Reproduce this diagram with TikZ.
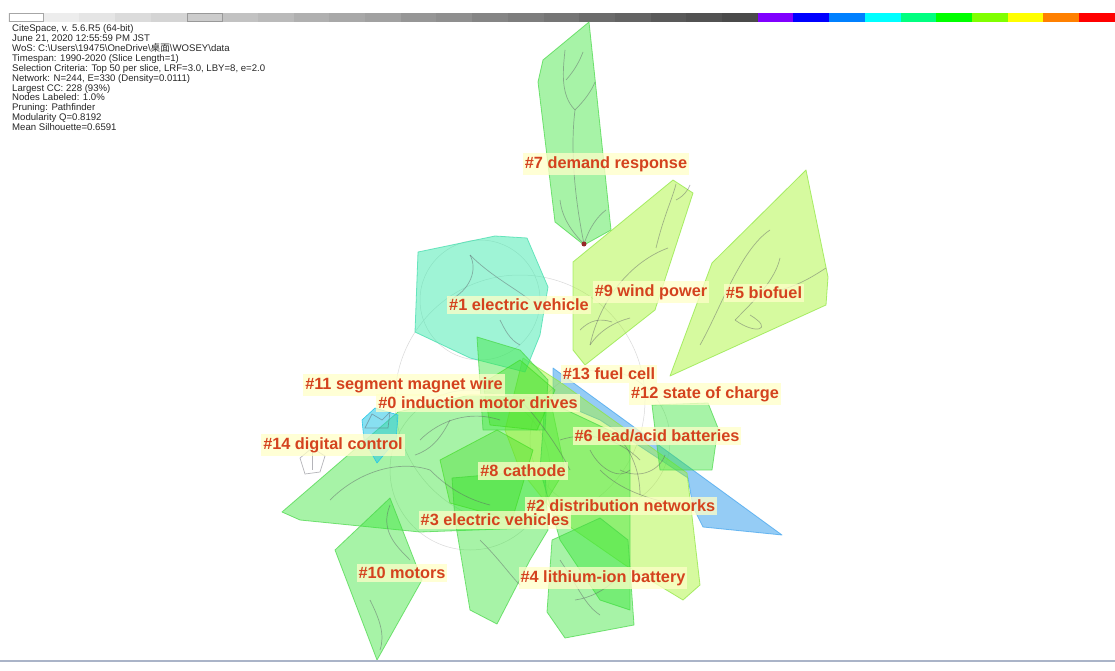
\documentclass[tikz,border=0pt]{standalone}
\usepackage{fontspec}
\setmainfont{Liberation Sans}
\newfontfamily\cjk{Noto Sans CJK SC}
\definecolor{labred}{RGB}{212,66,30}
\definecolor{labbg}{RGB}{255,255,200}
\definecolor{cgreen}{RGB}{60,230,60}
\definecolor{cgreenb}{RGB}{70,215,70}
\definecolor{cygreen}{RGB}{166,244,44}
\definecolor{cygreenb}{RGB}{140,230,60}
\definecolor{caqua}{RGB}{65,235,175}
\definecolor{caquab}{RGB}{60,220,170}
\definecolor{cblue}{RGB}{63,163,238}
\definecolor{cbright}{RGB}{60,220,30}
\definecolor{ccyan}{RGB}{40,200,230}
\definecolor{edgec}{RGB}{90,90,100}
\definecolor{dotc}{RGB}{150,40,40}
\definecolor{linec}{RGB}{170,180,200}
\definecolor{b1}{RGB}{128,0,255}
\definecolor{b2}{RGB}{0,0,255}
\definecolor{b3}{RGB}{0,128,255}
\definecolor{b4}{RGB}{0,255,255}
\definecolor{b5}{RGB}{0,255,128}
\definecolor{b6}{RGB}{0,255,0}
\definecolor{b7}{RGB}{128,255,0}
\definecolor{b8}{RGB}{255,255,0}
\definecolor{b9}{RGB}{255,128,0}
\definecolor{b10}{RGB}{255,0,0}
\tikzset{
  lab/.style={font=\bfseries\fontsize{16.3}{16.3}\selectfont, text=labred, fill=labbg, fill opacity=0.75, text opacity=1, inner xsep=2pt, inner ysep=3pt},
  pgreen/.style={fill=cgreen, fill opacity=0.45, draw=cgreenb, draw opacity=0.7, line width=0.8pt, line join=round},
  pyellow/.style={fill=cygreen, fill opacity=0.45, draw=cygreenb, draw opacity=0.7, line width=0.8pt, line join=round},
  paqua/.style={fill=caqua, fill opacity=0.5, draw=caquab, draw opacity=0.7, line width=0.8pt, line join=round},
  pblue/.style={fill=cblue, fill opacity=0.55, draw=cblue, draw opacity=0.7, line width=0.8pt, line join=round},
  pbright/.style={fill=cbright, fill opacity=0.35, draw=cbright, draw opacity=0.6, line width=0.8pt, line join=round},
  pcyan/.style={fill=ccyan, fill opacity=0.55, draw=ccyan, line width=0.6pt, line join=round},
  edge/.style={draw=edgec, draw opacity=0.45, line width=0.7pt},
  faint/.style={draw=gray!30, line width=0.5pt},
  info/.style={font=\fontsize{9.6}{9.9}\selectfont, text=black!85, align=left, inner sep=0pt, anchor=north west}
}
\begin{document}
\begin{tikzpicture}[x=1pt,y=-1pt]
\useasboundingbox (0,0) rectangle (1115,671);
\fill[white] (0,0) rectangle (1115,671);
% colour bar
\foreach \i in {0,...,20}{
  \pgfmathtruncatemacro\g{4+3.4*\i}
  \fill[black!\g] ({8+35.7*\i},13) rectangle ({8+35.7*(\i+1)},22);
}
\foreach \k in {1,...,10}{
  \fill[b\k] ({8+35.7*(\k+20)},13) rectangle ({8+35.7*(\k+21)},22);
}
\draw[gray!70, fill=white, line width=0.8pt] (9,13.5) rectangle (43.5,21.5);
\draw[gray!80, line width=0.8pt] (187,13.5) rectangle (222,21.5);
% info
\node[info] (info) at (12,24.5) {CiteSpace, v. 5.6.R5 (64-bit)\\
June 21, 2020 12:55:59 PM JST\\
WoS: C:\textbackslash Users\textbackslash 19475\textbackslash OneDrive\textbackslash{\cjk 桌面}\textbackslash WOSEY\textbackslash data\\
Timespan: 1990-2020 (Slice Length=1)\\
Selection Criteria: Top 50 per slice, LRF=3.0, LBY=8, e=2.0\\
Network: N=244, E=330 (Density=0.0111)\\
Largest CC: 228 (93\%)\\
Nodes Labeled: 1.0\%\\
Pruning: Pathfinder\\
Modularity Q=0.8192\\
Mean Silhouette=0.6591};
% faint circles
\draw[faint] (520,400) circle (125);
\draw[faint] (470,470) circle (80);
\draw[faint] (600,440) circle (70);
\draw[faint] (480,300) circle (60);
% polygons
\fill[pblue] (553,368) -- (782,535) -- (703,527) -- (693,507) -- (688,478) -- (600,420) -- (553,400) -- cycle;
\filldraw[pgreen] (282,512) -- (398,412) -- (470,395) -- (550,398) -- (565,470) -- (530,528) -- (420,532) -- (300,520) -- cycle;
\filldraw[pyellow] (523,358) -- (560,382) -- (687,473) -- (700,585) -- (683,600) -- (625,565) -- (560,520) -- (520,470) -- (505,430) -- cycle;
\filldraw[pgreen] (545,400) -- (630,440) -- (630,610) -- (600,600) -- (560,540) -- (540,470) -- cycle;
\filldraw[paqua] (418,252) -- (495,236) -- (527,238) -- (548,287) -- (540,335) -- (525,372) -- (470,358) -- (415,332) -- cycle;
\filldraw[pgreen] (589,22) -- (611,230) -- (584,245) -- (555,222) -- (538,82) -- (543,60) -- cycle;
\filldraw[pyellow] (673,180) -- (693,193) -- (655,310) -- (585,365) -- (573,350) -- (573,262) -- cycle;
\filldraw[pyellow] (806,170) -- (828,277) -- (826,305) -- (670,376) -- (712,263) -- cycle;
\filldraw[pgreen] (477,337) -- (520,350) -- (548,380) -- (545,430) -- (500,430) -- (483,430) -- cycle;
\filldraw[pgreen] (652,405) -- (708,403) -- (718,428) -- (712,470) -- (660,470) -- cycle;
\filldraw[pgreen] (452,478) -- (545,470) -- (548,530) -- (530,560) -- (497,624) -- (470,610) -- (455,520) -- cycle;
\filldraw[pgreen] (390,498) -- (422,580) -- (377,660) -- (335,550) -- cycle;
\filldraw[pgreen] (552,540) -- (600,518) -- (628,540) -- (634,625) -- (565,638) -- (547,612) -- cycle;
\filldraw[pbright] (440,460) -- (497,430) -- (533,450) -- (512,520) -- (450,503) -- cycle;
\filldraw[pbright] (483,383) -- (520,360) -- (555,390) -- (537,430) -- (490,425) -- cycle;
\filldraw[pcyan] (362,420) -- (375,408) -- (398,415) -- (396,440) -- (377,463) -- (364,440) -- cycle;
% edges
\draw[edge] (584,244) .. controls (575,200) and (570,150) .. (575,110);
\draw[edge] (575,110) .. controls (560,95) and (563,70) .. (565,50);
\draw[edge] (575,110) .. controls (585,100) and (592,90) .. (595,82);
\draw[edge] (566,80) .. controls (575,70) and (580,60) .. (583,52);
\draw[edge] (584,244) .. controls (572,232) and (562,218) .. (560,200);
\draw[edge] (584,244) .. controls (590,226) and (598,216) .. (606,210);
\draw[edge] (590,345) .. controls (600,300) and (630,262) .. (668,248);
\draw[edge] (656,248) .. controls (664,215) and (672,200) .. (676,184);
\draw[edge] (676,200) .. controls (684,196) and (688,190) .. (690,185);
\draw[edge] (590,345) .. controls (600,330) and (615,322) .. (630,318);
\draw[edge] (580,330) .. controls (590,320) and (600,318) .. (612,322);
\draw[edge] (700,345) .. controls (720,310) and (740,250) .. (770,230);
\draw[edge] (735,320) .. controls (755,300) and (775,280) .. (780,258);
\draw[edge] (735,320) .. controls (755,335) and (775,330) .. (750,315);
\draw[edge] (780,290) .. controls (800,285) and (815,275) .. (826,268);
\draw[edge] (470,255) .. controls (478,270) and (470,290) .. (450,300);
\draw[edge] (470,255) .. controls (490,275) and (510,285) .. (530,300);
\draw[edge] (500,320) .. controls (505,330) and (510,340) .. (520,345);
\draw[edge] (330,500) .. controls (360,470) and (400,460) .. (430,470);
\draw[edge] (420,440) .. controls (440,420) and (470,410) .. (500,420);
\draw[edge] (430,470) .. controls (450,490) and (470,500) .. (490,505);
\draw[edge] (520,400) .. controls (540,420) and (560,450) .. (570,470);
\draw[edge] (560,440) .. controls (590,430) and (620,440) .. (640,460);
\draw[edge] (600,470) .. controls (620,490) and (650,500) .. (680,505);
\draw[edge] (590,450) .. controls (600,470) and (620,480) .. (630,470);
\draw[edge] (620,470) .. controls (640,480) and (660,470) .. (665,455);
\draw[edge] (450,420) .. controls (440,440) and (430,450) .. (415,455);
\draw[edge] (390,505) .. controls (380,530) and (395,545) .. (410,560);
\draw[edge] (370,600) .. controls (380,620) and (385,635) .. (380,650);
\draw[edge] (480,540) .. controls (500,560) and (510,575) .. (520,585);
\draw[edge] (560,560) .. controls (580,590) and (585,605) .. (600,615);
\draw[edge] (575,600) .. controls (590,598) and (605,590) .. (615,580);
\draw[edge] (610,430) .. controls (630,445) and (640,470) .. (640,495);
\draw[edge] (300,458) -- (312,448) -- (325,456) -- (320,472) -- (305,474) -- cycle;
\draw[edge] (312,448) -- (312,470);
\draw[edge] (365,428) -- (372,414) -- (382,420) -- (390,412) -- (388,428) -- cycle;
% node dot
\fill[dotc] (584,244) circle (2.5);
% bottom line
\draw[linec, line width=1.5pt] (0,661) -- (1115,661);
% labels
\node[lab] (l7) at (606,164) {\#7 demand response};
\node[lab] (l9) at (651,292) {\#9 wind power};
\node[lab] (l5) at (764,293) {\#5 biofuel};
\node[lab] (l1) at (519,305) {\#1 electric vehicle};
\node[lab] (l13) at (609,374) {\#13 fuel cell};
\node[lab] (l11) at (404,385) {\#11 segment magnet wire};
\node[lab] (l12) at (705,394) {\#12 state of charge};
\node[lab] (l0) at (478,403) {\#0 induction motor drives};
\node[lab] (l6) at (657,436) {\#6 lead/acid batteries};
\node[lab] (l14) at (333,445) {\#14 digital control};
\node[lab] (l8) at (523,471) {\#8 cathode};
\node[lab] (l2) at (621,506) {\#2 distribution networks};
\node[lab] (l3) at (495,520) {\#3 electric vehicles};
\node[lab] (l10) at (402,573) {\#10 motors};
\node[lab] (l4) at (603,578) {\#4 lithium-ion battery};
\end{tikzpicture}
\end{document}
